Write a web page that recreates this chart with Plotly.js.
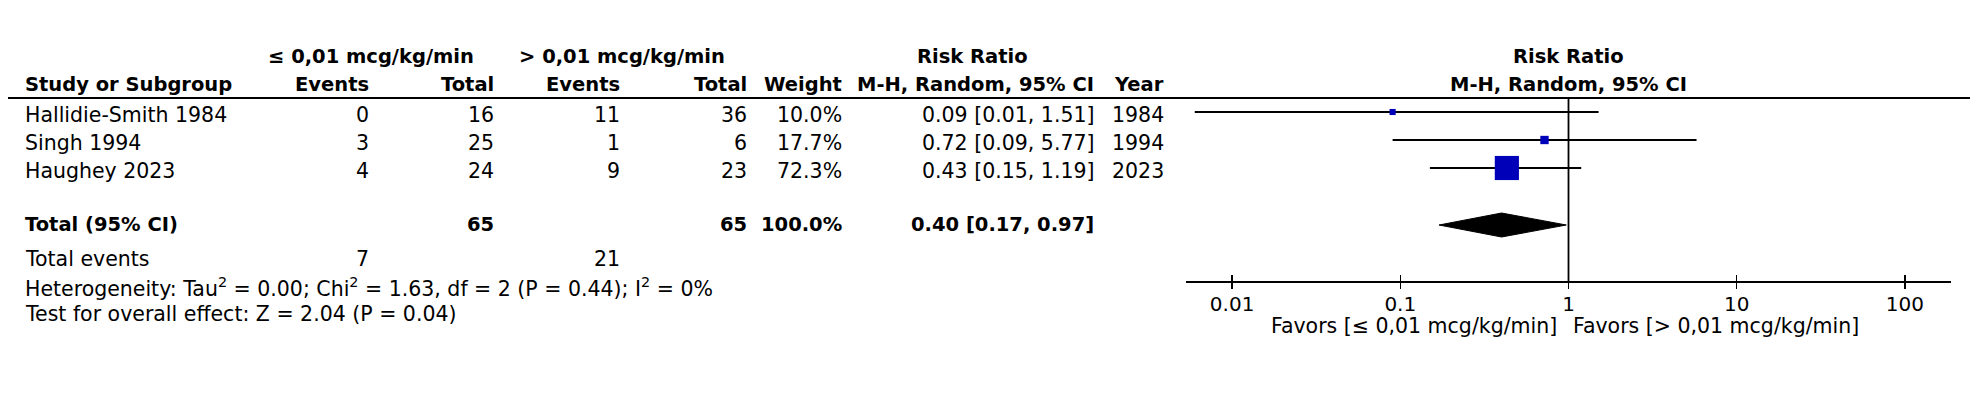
<!DOCTYPE html>
<html><head><meta charset="utf-8">
<script src="https://cdn.plot.ly/plotly-3.0.1.min.js"></script>
<style>html,body{margin:0;padding:0;background:#fff;overflow:hidden}</style>
</head><body>
<div id="chart" style="width:1984px;height:398px"></div>
<script>
// ---- data ----
const studies    = ['Hallidie-Smith 1984', 'Singh 1994', 'Haughey 2023'];
const eventsLow  = [0, 3, 4];
const totalLow   = [16, 25, 24];
const eventsHigh = [11, 1, 9];
const totalHigh  = [36, 6, 23];
const weights    = [10.0, 17.7, 72.3];
const rr         = [0.09, 0.72, 0.43];
const ciLow      = [0.006, 0.09, 0.15];
const ciHigh     = [1.51, 5.77, 1.19];
const years      = [1984, 1994, 2023];
const pooled     = [0.17, 0.40, 0.97];   // [low, estimate, high]
const hetStats   = [0.00, 1.63, 2, 0.44, 0];  // tau2, chi2, df, P, I2
const overall    = [2.04, 0.04];          // Z, P
const tickVals   = [0.01, 0.1, 1, 10, 100];
const tickLabels = ['0.01', '0.1', '1', '10', '100'];
const groupLow   = '≤ 0,01 mcg/kg/min';
const groupHigh  = '> 0,01 mcg/kg/min';

// ---- layout helpers ----
const W = 1984, H = 398;
const FONT = 'DejaVu Sans, Verdana, sans-serif';
const ROW = 28, ROW0 = 112;
const pyToY = p => (p - ROW0) / ROW;
const px = x => x / W;
const REG = 20.5, BOLD = 19.5;

const sum = a => a.reduce((s, v) => s + v, 0);
const ann = [];
function txt(text, x, y, anchor, bold, extra) {
  ann.push(Object.assign({
    text: bold ? '<b>' + text + '</b>' : text,
    x: px(x), y: y, xref: 'paper', yref: 'y',
    xanchor: anchor, yanchor: 'middle', showarrow: false, yshift: -3,
    font: {family: FONT, size: bold ? BOLD : REG, color: '#000'}
  }, extra || {}));
}

// column right edges / positions (pixels)
const C = {study: 23, evL: 371, totL: 496, evH: 622, totH: 749, wt: 844, rr: 1096, yr: 1166};

// headers
const hs = {yshift: 0};
txt(groupLow, 371, -2, 'center', true, hs);
txt(groupHigh, 622, -2, 'center', true, hs);
txt('Risk Ratio', 972, -2, 'center', true, hs);
txt('Study or Subgroup', C.study, -1, 'left', true, hs);
txt('Events', C.evL, -1, 'right', true, hs);
txt('Total', C.totL, -1, 'right', true, hs);
txt('Events', C.evH, -1, 'right', true, hs);
txt('Total', C.totH, -1, 'right', true, hs);
txt('Weight', C.wt, -1, 'right', true, hs);
txt('M-H, Random, 95% CI', C.rr, -1, 'right', true, hs);
txt('Year', C.yr, -1, 'right', true, hs);

const rrText = (e, l, h) => e.toFixed(2) + ' [' + l.toFixed(2) + ', ' + h.toFixed(2) + ']';

studies.forEach((s, i) => {
  txt(s, C.study, i, 'left');
  txt(String(eventsLow[i]), C.evL, i, 'right');
  txt(String(totalLow[i]), C.totL, i, 'right');
  txt(String(eventsHigh[i]), C.evH, i, 'right');
  txt(String(totalHigh[i]), C.totH, i, 'right');
  txt(weights[i].toFixed(1) + '%', C.wt, i, 'right');
  txt(rrText(rr[i], ciLow[i], ciHigh[i]), C.rr, i, 'right');
  txt(String(years[i]), C.yr, i, 'right');
});

const yTot = pyToY(225);
const ts = {yshift: 1};
txt('Total (95% CI)', C.study, yTot, 'left', true, ts);
txt(String(sum(totalLow)), C.totL, yTot, 'right', true, ts);
txt(String(sum(totalHigh)), C.totH, yTot, 'right', true, ts);
txt(sum(weights).toFixed(1) + '%', C.wt, yTot, 'right', true, ts);
txt(rrText(pooled[1], pooled[0], pooled[2]), C.rr, yTot, 'right', true, ts);
const yEv = pyToY(259), yHet = pyToY(287), yTest = pyToY(314);
const fs = {yshift: 0};
txt('Total events', C.study, yEv, 'left', false, fs);
txt(String(sum(eventsLow)), C.evL, yEv, 'right', false, fs);
txt(String(sum(eventsHigh)), C.evH, yEv, 'right', false, fs);
txt('Heterogeneity: Tau<sup>2</sup> = ' + hetStats[0].toFixed(2) + '; Chi<sup>2</sup> = ' + hetStats[1].toFixed(2) +
    ', df = ' + hetStats[2] + ' (P = ' + hetStats[3].toFixed(2) + '); I<sup>2</sup> = ' + hetStats[4] + '%',
    C.study, yHet, 'left', false, fs);
txt('Test for overall effect: Z = ' + overall[0].toFixed(2) + ' (P = ' + overall[1].toFixed(2) + ')',
    C.study, yTest, 'left', false, fs);

// plot headers (centered on RR = 1, log coordinate 0)
['Risk Ratio', 'M-H, Random, 95% CI'].forEach((t, k) => {
  ann.push({text: '<b>' + t + '</b>', x: 0, y: k - 2, xref: 'x', yref: 'y', xanchor: 'center', yanchor: 'middle',
            showarrow: false, yshift: 0, font: {family: FONT, size: BOLD, color: '#000'}});
});
// favours labels
ann.push({text: 'Favors [' + groupLow + ']', x: 0, y: pyToY(326), xref: 'x', yref: 'y', xanchor: 'right', yanchor: 'middle',
          xshift: -10, showarrow: false, font: {family: FONT, size: REG, color: '#000'}});
ann.push({text: 'Favors [' + groupHigh + ']', x: 0, y: pyToY(326), xref: 'x', yref: 'y', xanchor: 'left', yanchor: 'middle',
          xshift: 2, showarrow: false, font: {family: FONT, size: REG, color: '#000'}});

// ---- traces ----
const traces = [];
studies.forEach((s, i) => {
  traces.push({type: 'scatter', mode: 'lines', x: [ciLow[i], ciHigh[i]], y: [i, i],
               line: {color: '#000', width: 2}, hoverinfo: 'skip'});
});
traces.push({type: 'scatter', mode: 'lines', x: [1, 1], y: [-0.5, pyToY(282)],
             line: {color: '#000', width: 1.8}, hoverinfo: 'skip'});
traces.push({type: 'scatter', mode: 'markers', x: rr, y: studies.map((s, i) => i),
             marker: {symbol: 'square', color: '#0000b8', opacity: 1,
                      size: weights.map(w => 3.2 + 0.29 * w), line: {width: 0}}});
const dh = 12 / ROW;
traces.push({type: 'scatter', mode: 'lines', x: [pooled[0], pooled[1], pooled[2], pooled[1], pooled[0]],
             y: [yTot, yTot - dh, yTot, yTot + dh, yTot], fill: 'toself', fillcolor: '#000',
             line: {color: '#000', width: 1}, hoverinfo: 'skip'});
// invisible trace on overlay axis so that its outside ticks are drawn
traces.push({type: 'scatter', mode: 'markers', x: [1], y: [0], xaxis: 'x2', marker: {opacity: 0}, hoverinfo: 'skip'});

const logR = [-2.274, 2.274];
const dom = [px(1186), px(1951)];
const axPos = 1 - 282 / H;
const layout = {
  width: W, height: H, margin: {l: 0, r: 0, t: 0, b: 0},
  paper_bgcolor: '#fff', plot_bgcolor: 'rgba(0,0,0,0)', showlegend: false,
  font: {family: FONT, color: '#000'},
  xaxis: {type: 'log', range: logR, domain: dom, anchor: 'free', position: axPos,
          showline: true, linecolor: '#000', linewidth: 2, showgrid: false, zeroline: false,
          ticks: 'inside', ticklen: 6, tickwidth: 1.5, tickcolor: '#000', ticklabelstandoff: 4,
          tickvals: tickVals, ticktext: tickLabels, tickfont: {family: FONT, size: 20, color: '#000'},
          fixedrange: true},
  xaxis2: {type: 'log', range: logR, domain: dom, anchor: 'free', position: axPos, overlaying: 'x',
           showline: false, showgrid: false, zeroline: false, ticks: 'outside', ticklen: 6, tickwidth: 1.5,
           tickcolor: '#000', tickvals: tickVals, showticklabels: false, fixedrange: true},
  yaxis: {range: [(H - ROW0) / ROW, -ROW0 / ROW], domain: [0, 1], visible: false, fixedrange: true},
  shapes: [{type: 'line', xref: 'paper', yref: 'paper', x0: px(8), x1: px(1970), y0: 1 - 98 / H, y1: 1 - 98 / H,
            line: {color: '#000', width: 2}}],
  annotations: ann
};
Plotly.newPlot('chart', traces, layout, {staticPlot: true, displayModeBar: false});
</script>
</body></html>
